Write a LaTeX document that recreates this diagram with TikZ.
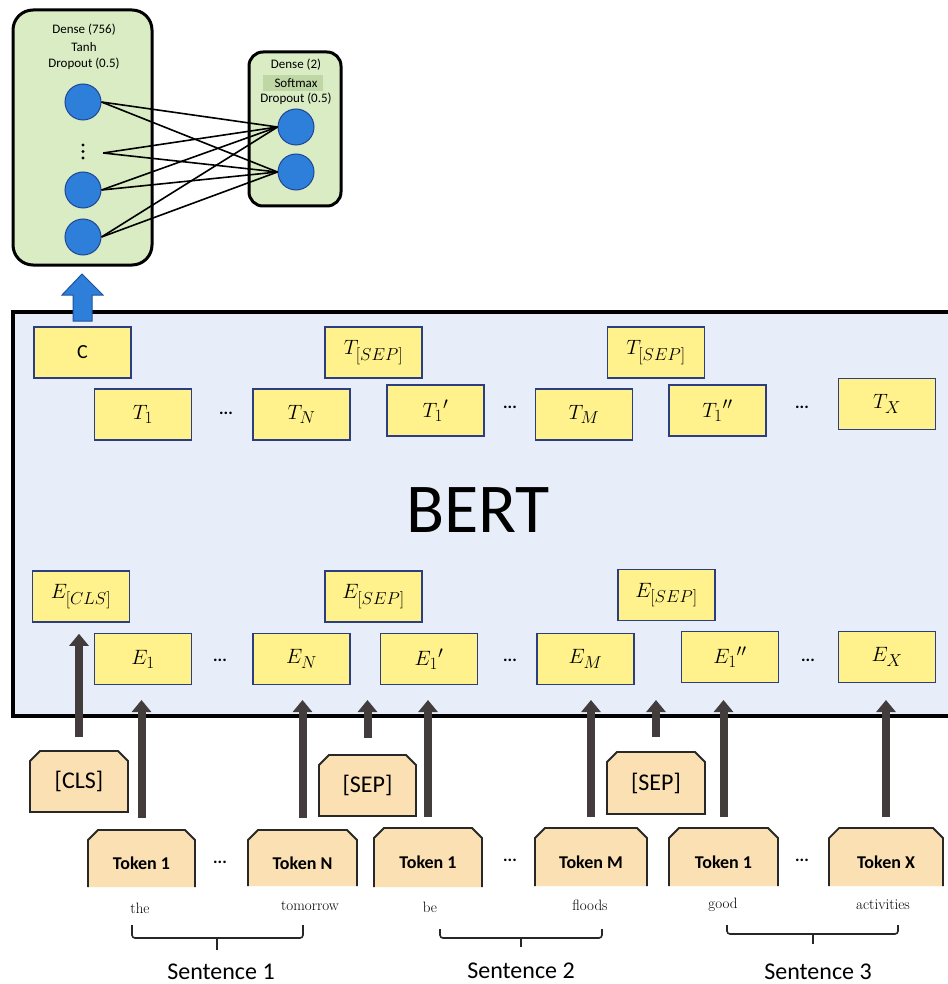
\documentclass[tikz,border=0pt]{standalone}
\usepackage{fontspec}
\setsansfont{Carlito}
\usetikzlibrary{arrows.meta}
\DeclareMathSizes{20.74}{20.74}{17.28}{14.4}
\definecolor{gfill}{RGB}{218,236,196}
\definecolor{ghl}{RGB}{190,215,165}
\definecolor{nfill}{RGB}{46,127,217}
\definecolor{nbord}{RGB}{30,70,150}
\definecolor{bertfill}{RGB}{232,238,249}
\definecolor{yfill}{RGB}{255,242,140}
\definecolor{ybord}{RGB}{45,62,128}
\definecolor{peach}{RGB}{250,224,178}
\definecolor{tokbord}{RGB}{40,40,40}
\definecolor{garr}{RGB}{66,60,60}
\definecolor{barr}{RGB}{46,127,217}
\definecolor{bbord}{RGB}{30,80,160}
\newcommand\tokbox[6]{%
  \fill[peach] (#2,#5) -- (#2,#3+10) -- (#2+10,#3) -- (#4-10,#3) -- (#4,#3+10) -- (#4,#5) -- cycle;
  \draw[tokline] (#2,#5) -- (#2,#3+10) -- (#2+10,#3) -- (#4-10,#3) -- (#4,#3+10) -- (#4,#5);
  \node[toktext, minimum width=#4-#2, minimum height=#5-#3] (#1) at ({(#2+#4)/2},{(#3+#5)/2}) {\raisebox{-11pt}[0pt][0pt]{#6}};
}
\newcommand\spbox[6]{%
  \draw[tokline, fill=peach] (#2,#5) -- (#2,#3+10) -- (#2+10,#3) -- (#4-10,#3) -- (#4,#3+10) -- (#4,#5) -- cycle;
  \node[sptext, minimum width=#4-#2, minimum height=#5-#3] (#1) at ({(#2+#4)/2},{(#3+#5)/2}) {#6};
}
\tikzset{
  gbox/.style={draw=black, fill=gfill, line width=3pt, inner sep=0pt},
  gtext/.style={font=\sffamily\fontsize{13}{15}\selectfont, inner sep=0pt},
  neuron/.style={circle, draw=nbord, fill=nfill, line width=1pt, minimum size=36pt, inner sep=0pt},
  nnline/.style={draw=black, line width=1.6pt},
  ybox/.style={draw=ybord, fill=yfill, line width=1.6pt, minimum width=97pt, minimum height=51pt, inner sep=0pt, font=\fontsize{20.74}{25}\selectfont},
  dotstext/.style={font=\sffamily\bfseries\fontsize{17}{19}\selectfont, inner sep=0pt},
  garrow/.style={draw=garr, line width=8pt, -{Triangle[width=19pt,length=12pt]}},
  tokline/.style={draw=tokbord, line width=1.8pt, line join=miter},
  toktext/.style={font=\sffamily\bfseries\fontsize{18}{20}\selectfont, inner sep=0pt},
  sptext/.style={font=\sffamily\fontsize{24}{26}\selectfont, inner sep=0pt},
  wordtext/.style={font=\rmfamily\fontsize{15}{17}\selectfont, inner sep=0pt},
  senttext/.style={font=\sffamily\fontsize{24}{26}\selectfont, inner sep=0pt},
  bracepath/.style={draw=black!85, line width=1.6pt, rounded corners=3pt},
}
\begin{document}
\begin{tikzpicture}[x=1pt,y=-1pt]
\useasboundingbox (0,0) rectangle (947,984);
\fill[white] (0,0) rectangle (947,984);

% ---- classifier head ----
\node[gbox, rounded corners=20pt, minimum width=139pt, minimum height=255pt] (dense1) at (82.5,137.5) {};
\node[gbox, rounded corners=14pt, minimum width=92pt, minimum height=154pt] (dense2) at (295,129) {};
\node[gtext] (d1a) at (84,30) {Dense (756)};
\node[gtext] (d1b) at (84,47) {Tanh};
\node[gtext] (d1c) at (84,64) {Dropout (0.5)};
\fill[ghl] (263,75) rectangle (323,91);
\node[gtext] (d2a) at (296,65) {Dense (2)};
\node[gtext] (d2b) at (296,83) {Softmax};
\node[gtext] (d2c) at (296,99) {Dropout (0.5)};

\node[neuron] (l1) at (83,102) {};
\node[neuron] (l2) at (83,190) {};
\node[neuron] (l3) at (83,237) {};
\node[inner sep=0pt, minimum size=0pt] (ld) at (103,153) {};
\fill (83,145) circle (1.7);
\fill (83,151.5) circle (1.7);
\fill (83,158) circle (1.7);
\node[neuron] (r1) at (296,127) {};
\node[neuron] (r2) at (296,172) {};
\foreach \s in {l1,ld,l2,l3} {
  \foreach \t in {r1,r2} {
    \draw[nnline] (\s.east) -- (\t.west);
  }
}

% ---- BERT box ----
\node[draw=black, fill=bertfill, line width=4pt, minimum width=952pt, minimum height=404pt, inner sep=0pt] (bert) at (489,514) {};
\node[font=\sffamily\fontsize{70}{72}\selectfont, inner sep=0pt] (berttext) at (478,510) {BERT};

% blue block arrow
\draw[fill=barr, draw=bbord, line width=1pt, line join=miter] (82,274) -- (103,295) -- (92,295) -- (92,321) -- (73,321) -- (73,295) -- (62,295) -- cycle;

% output row
\node[ybox, font=\sffamily\fontsize{20}{22}\selectfont] (C) at (82.5,352.5) {C};
\node[ybox] (tsep1) at (373.5,352.5) {$T_{[SEP]}$};
\node[ybox] (tsep2) at (656,352.5) {$T_{[SEP]}$};
\node[ybox] (t1) at (143,414.5) {$T_1$};
\node[ybox] (tn) at (301.5,414.5) {$T_N$};
\node[ybox] (t1p) at (435.5,410.5) {$T_1{}'$};
\node[ybox] (tm) at (584,414.5) {$T_M$};
\node[ybox] (t1pp) at (717.5,410.5) {$T_1{}''$};
\node[ybox] (tx) at (887,404) {$T_X$};
\node[dotstext] (tdots1) at (226,413) {...};
\node[dotstext] (tdots2) at (510,407) {...};
\node[dotstext] (tdots3) at (802,407) {...};

% embedding row
\node[ybox] (ecls) at (81,596.5) {$E_{[CLS]}$};
\node[ybox] (esep1) at (373.5,596.5) {$E_{[SEP]}$};
\node[ybox] (esep2) at (666.5,595) {$E_{[SEP]}$};
\node[ybox] (e1) at (143,659) {$E_1$};
\node[ybox] (en) at (301.5,659) {$E_N$};
\node[ybox] (e1p) at (429,659) {$E_1{}'$};
\node[ybox] (em) at (585.5,659) {$E_M$};
\node[ybox] (e1pp) at (730,657) {$E_1{}''$};
\node[ybox] (ex) at (887,657) {$E_X$};
\node[dotstext] (edots1) at (220,660) {...};
\node[dotstext] (edots2) at (510,660) {...};
\node[dotstext] (edots3) at (808,660) {...};

% ---- tokens ----
\spbox{cls}{30}{751}{128}{812}{[CLS]}
\spbox{sep1}{319}{755}{416}{816}{[SEP]}
\spbox{sep2}{607}{752}{705}{814}{[SEP]}
\tokbox{tk1}{88}{830}{195}{887}{Token 1}
\tokbox{tkn}{248}{830}{357}{886}{Token N}
\tokbox{tk1b}{374}{828}{482}{887}{Token 1}
\tokbox{tkm}{535}{828}{647}{886}{Token M}
\tokbox{tk1c}{669}{828}{778}{886}{Token 1}
\tokbox{tkx}{829}{828}{943}{886}{Token X}
\node[dotstext] (kdots1) at (220,862) {...};
\node[dotstext] (kdots2) at (510,860) {...};
\node[dotstext] (kdots3) at (802,860) {...};

% ---- arrows ----
\coordinate (tipline) at (0,700);
\draw[garrow, shorten >=11pt] ([yshift=14pt]cls.north) -- (cls.north |- ecls.south);
\draw[garrow] ([yshift=17pt]sep1.north) -- (sep1.north |- tipline);
\draw[garrow] ([yshift=15pt]sep2.north) -- (sep2.north |- tipline);
\draw[garrow] ([yshift=12pt]tk1.north) -- (tk1.north |- tipline);
\draw[garrow] ([yshift=12pt]tkn.north) -- (tkn.north |- tipline);
\draw[garrow] ([yshift=11pt]tk1b.north) -- (tk1b.north |- tipline);
\draw[garrow] ([yshift=11pt]tkm.north) -- (tkm.north |- tipline);
\draw[garrow] ([yshift=11pt]tk1c.north) -- (tk1c.north |- tipline);
\draw[garrow] ([yshift=11pt]tkx.north) -- (tkx.north |- tipline);

% ---- words ----
\node[wordtext] (w1) at (140,908) {the};
\node[wordtext] (w2) at (310,906) {tomorrow};
\node[wordtext] (w3) at (430,907) {be};
\node[wordtext] (w4) at (590,905) {floods};
\node[wordtext] (w5) at (723,905) {good};
\node[wordtext] (w6) at (883,905) {activities};

% ---- braces ----
\draw[bracepath] (132,925) -- (132,938) -- (303,938) -- (303,925);
\draw[bracepath] (217,938) -- (217,950);
\draw[bracepath] (440,929) -- (440,938) -- (602,938) -- (602,929);
\draw[bracepath] (521,938) -- (521,947);
\draw[bracepath] (727,925) -- (727,934) -- (898,934) -- (898,925);
\draw[bracepath] (813,934) -- (813,944);

\node[senttext] (s1) at (221,972) {Sentence 1};
\node[senttext] (s2) at (521,971) {Sentence 2};
\node[senttext] (s3) at (818,972) {Sentence 3};
\end{tikzpicture}
\end{document}
